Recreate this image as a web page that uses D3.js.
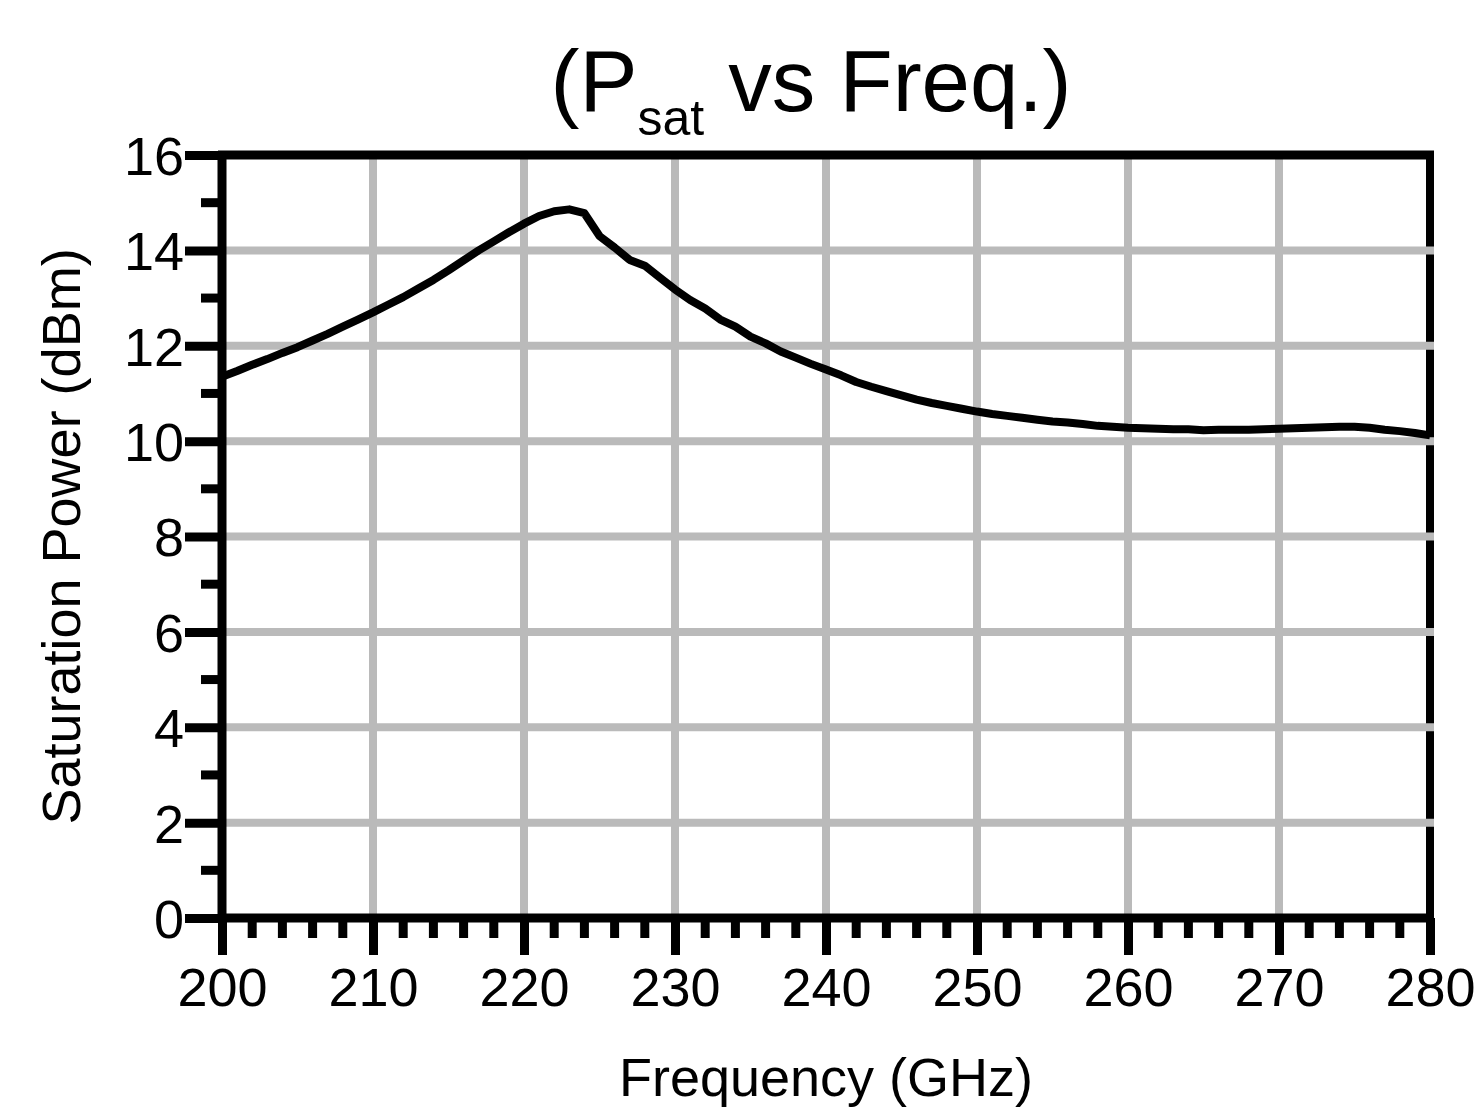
<!DOCTYPE html>
<html>
<head>
<meta charset="utf-8">
<script src="https://cdn.jsdelivr.net/npm/d3@7"></script>
<style>
  html, body { margin: 0; padding: 0; background: #fff; }
  svg { display: block; }
  text { font-family: "Liberation Sans", Arial, sans-serif; fill: #000; }
</style>
</head>
<body>
<svg id="chart" width="1476" height="1107"></svg>
<script>
// ---- data ----
const freqs = [200,201,202,203,204,205,206,207,208,209,210,211,212,213,214,215,216,217,218,219,
  220,221,222,223,224,225,226,227,228,229,230,231,232,233,234,235,236,237,238,239,
  240,241,242,243,244,245,246,247,248,249,250,251,252,253,254,255,256,257,258,259,
  260,261,262,263,264,265,266,267,268,269,270,271,272,273,274,275,276,277,278,279,280];
const psat = [11.35,11.47,11.60,11.72,11.85,11.97,12.11,12.25,12.40,12.55,
  12.70,12.86,13.02,13.20,13.38,13.58,13.79,14.00,14.19,14.38,
  14.56,14.72,14.82,14.86,14.78,14.30,14.06,13.80,13.68,13.43,
  13.18,12.96,12.78,12.55,12.40,12.19,12.05,11.88,11.75,11.62,
  11.50,11.38,11.24,11.14,11.05,10.96,10.87,10.80,10.74,10.68,
  10.62,10.57,10.53,10.49,10.45,10.41,10.39,10.36,10.32,10.30,
  10.28,10.27,10.26,10.25,10.25,10.23,10.24,10.24,10.24,10.25,
  10.26,10.27,10.28,10.29,10.30,10.30,10.28,10.24,10.21,10.17,10.12];
const xMajorTicks = [200,210,220,230,240,250,260,270,280];
const xMinorTicks = [202,204,206,208,212,214,216,218,222,224,226,228,232,234,236,238,
  242,244,246,248,252,254,256,258,262,264,266,268,272,274,276,278];
const yMajorTicks = [0,2,4,6,8,10,12,14,16];
const yMinorTicks = [1,3,5,7,9,11,13,15];
const xGrid = [210,220,230,240,250,260,270];
const yGrid = [2,4,6,8,10,12,14];
const titleMain = "(P", titleSub = "sat", titleRest = " vs Freq.)";
const xLabel = "Frequency (GHz)";
const yLabel = "Saturation Power (dBm)";

// ---- layout ----
const L = 222, R = 1430, T = 155, B = 918;
const svg = d3.select("#chart");
const x = d3.scaleLinear().domain([200, 280]).range([L, R]);
const y = d3.scaleLinear().domain([0, 16]).range([B, T]);
const gridColor = "#bababa";

// right border (gridlines drawn over it)
svg.append("line").attr("x1", R).attr("x2", R).attr("y1", T - 4).attr("y2", B)
  .attr("stroke", "#000").attr("stroke-width", 8);

// grid
svg.append("g").selectAll("line").data(yGrid).join("line")
  .attr("x1", L).attr("x2", R + 4).attr("y1", d => y(d)).attr("y2", d => y(d))
  .attr("stroke", gridColor).attr("stroke-width", 8);
svg.append("g").selectAll("line").data(xGrid).join("line")
  .attr("x1", d => x(d)).attr("x2", d => x(d)).attr("y1", T).attr("y2", B)
  .attr("stroke", gridColor).attr("stroke-width", 8);

// top border
svg.append("line").attr("x1", L - 4).attr("x2", R + 4).attr("y1", T).attr("y2", T)
  .attr("stroke", "#000").attr("stroke-width", 9);

// curve
const line = d3.line().x((d, i) => x(freqs[i])).y(d => y(d)).curve(d3.curveLinear);
svg.append("path").datum(psat).attr("d", line)
  .attr("fill", "none").attr("stroke", "#000").attr("stroke-width", 8)
  .attr("stroke-linejoin", "round");

// x axis
const xAxis = d3.axisBottom(x).tickValues(xMajorTicks).tickSize(37).tickSizeOuter(0).tickPadding(14)
  .tickFormat(d3.format("d"));
const gx = svg.append("g").attr("transform", `translate(0,${B})`).call(xAxis);
gx.select(".domain").attr("stroke", "#000").attr("stroke-width", 9)
  .attr("d", `M${L - 4},0H${R + 4}`);
gx.selectAll(".tick line").attr("stroke", "#000").attr("stroke-width", 9);
gx.selectAll(".tick text").attr("font-size", 54).attr("font-family", "Liberation Sans, Arial, sans-serif")
  .attr("fill", "#000").attr("dy", null).attr("y", 88);
svg.append("g").attr("transform", `translate(0,${B})`).selectAll("line").data(xMinorTicks).join("line")
  .attr("x1", d => x(d)).attr("x2", d => x(d)).attr("y1", 0).attr("y2", 20)
  .attr("stroke", "#000").attr("stroke-width", 9);

// y axis
const yAxis = d3.axisLeft(y).tickValues(yMajorTicks).tickSize(37).tickSizeOuter(0).tickPadding(1)
  .tickFormat(d3.format("d"));
const gy = svg.append("g").attr("transform", `translate(${L},0)`).call(yAxis);
gy.select(".domain").attr("stroke", "#000").attr("stroke-width", 9)
  .attr("d", `M0,${B + 4}V${T - 4}`);
gy.selectAll(".tick line").attr("stroke", "#000").attr("stroke-width", 9);
gy.selectAll(".tick text").attr("font-size", 54).attr("font-family", "Liberation Sans, Arial, sans-serif")
  .attr("fill", "#000").attr("dy", "0.36em");
svg.append("g").attr("transform", `translate(${L},0)`).selectAll("line").data(yMinorTicks).join("line")
  .attr("x1", -21).attr("x2", 0).attr("y1", d => y(d)).attr("y2", d => y(d))
  .attr("stroke", "#000").attr("stroke-width", 9);

// title
const title = svg.append("text").attr("x", 811).attr("y", 111).attr("text-anchor", "middle")
  .attr("font-size", 87);
title.append("tspan").text(titleMain);
title.append("tspan").attr("font-size", 50).attr("dy", 24).text(titleSub);
title.append("tspan").attr("dy", -24).text(titleRest);

// axis labels
svg.append("text").attr("x", (L + R) / 2).attr("y", 1096).attr("text-anchor", "middle")
  .attr("font-size", 54).text(xLabel);
svg.append("text").attr("transform", `translate(80,${(T + B) / 2}) rotate(-90)`)
  .attr("text-anchor", "middle").attr("font-size", 54).text(yLabel);
</script>
</body>
</html>
